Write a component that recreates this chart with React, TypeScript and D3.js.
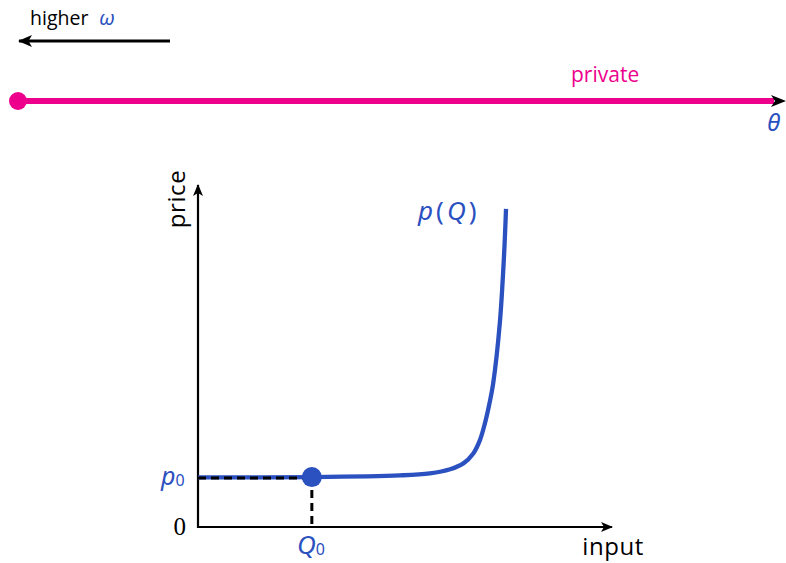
import React from "react";
import * as d3 from "d3";

// Price curve p(Q): input quantity vs. price (axis units 0..10)
const curveQ = [0, 2.75, 4.88, 5.6, 6.09, 6.41, 6.65, 6.81, 6.93, 7.04, 7.13, 7.29, 7.39, 7.44];
const curveP = [1.45, 1.46, 1.51, 1.57, 1.69, 1.86, 2.15, 2.54, 3.03, 3.61, 4.2, 5.96, 7.89, 9.3];

// Reference point (Q0, p0)
const pointQ = [2.75];
const pointP = [1.46];

const axisLabels = ["input", "price"];
const tickLabels = ["0"];

const W = 786;
const H = 563;
const BLUE = "#2b50bf";
const MAGENTA = "#ec008c";
const SANS = "'Open Sans', 'Noto Sans', sans-serif";
const MATH = "'Noto Sans', 'DejaVu Sans', sans-serif";

export default function App() {
  const x = d3.scaleLinear().domain([0, 10]).range([198, 612]);
  const y = d3.scaleLinear().domain([0, 10]).range([527, 185]);

  const pts: [number, number][] = curveQ.map((q, i) => [q, curveP[i]]);
  const line = d3
    .line<[number, number]>()
    .x((d) => x(d[0]))
    .y((d) => y(d[1]))
    .curve(d3.curveCatmullRom.alpha(0.5));

  const q0 = x(pointQ[0]);
  const p0 = y(pointP[0]);

  // top spectrum line
  const sx = d3.scaleLinear().domain([0, 1]).range([18, 786]);

  return (
    <svg
      width={W}
      height={H}
      style={{ position: "absolute", left: 0, top: 0, background: "#fff" }}
    >
      <defs>
        <marker
          id="arrow"
          viewBox="0 0 12 10"
          refX="11"
          refY="5"
          markerWidth="12"
          markerHeight="10"
          markerUnits="userSpaceOnUse"
          orient="auto-start-reverse"
        >
          <path d="M0,0 L12,5 L0,10 L3,5 Z" fill="#000" />
        </marker>
        <marker
          id="arrowBig"
          viewBox="0 0 14 12"
          refX="13"
          refY="6"
          markerWidth="14"
          markerHeight="12"
          markerUnits="userSpaceOnUse"
          orient="auto-start-reverse"
        >
          <path d="M0,0 L14,6 L0,12 L3.5,6 Z" fill="#000" />
        </marker>
      </defs>

      {/* direction hint */}
      <text x={30} y={25} fontFamily={SANS} fontSize={19.5} fill="#000">
        higher
        <tspan
          x={99}
          fill={BLUE}
          fontStyle="italic"
          fontFamily={MATH}
          fontSize={20}
        >
          ω
        </tspan>
      </text>
      <line
        x1={170}
        y1={41}
        x2={19}
        y2={41}
        stroke="#000"
        strokeWidth={3}
        markerEnd="url(#arrowBig)"
      />

      {/* θ spectrum */}
      <line
        x1={sx(0)}
        y1={101}
        x2={sx(1) - 12}
        y2={101}
        stroke={MAGENTA}
        strokeWidth={6}
      />
      <path
        d={`M${sx(1) - 15},95 L${sx(1)},101 L${sx(1) - 15},107 L${sx(1) - 11},101 Z`}
        fill="#000"
      />
      <circle cx={sx(0)} cy={101} r={9} fill={MAGENTA} />
      <text x={571} y={82} fontFamily={SANS} fontSize={21} fill={MAGENTA}>
        private
      </text>
      <text
        x={780}
        y={131}
        fontFamily={MATH}
        fontStyle="italic"
        fontSize={24}
        fill={BLUE}
        textAnchor="end"
      >
        θ
      </text>

      {/* axes */}
      <line
        x1={x(0)}
        y1={y(0)}
        x2={x(10)}
        y2={y(0)}
        stroke="#000"
        strokeWidth={2.2}
        markerEnd="url(#arrow)"
      />
      <line
        x1={x(0)}
        y1={y(0) + 1.1}
        x2={x(0)}
        y2={y(10)}
        stroke="#000"
        strokeWidth={2.2}
        markerEnd="url(#arrow)"
      />
      <text
        x={644}
        y={555}
        fontFamily={SANS}
        fontSize={24}
        letterSpacing={0.6}
        textAnchor="end"
        fill="#000"
      >
        {axisLabels[0]}
      </text>
      <text
        transform={`translate(185,199) rotate(-90)`}
        fontFamily={SANS}
        fontSize={24}
        letterSpacing={0.6}
        textAnchor="middle"
        fill="#000"
      >
        {axisLabels[1]}
      </text>
      <text
        x={186}
        y={535}
        fontFamily="'Liberation Serif', serif"
        fontSize={25}
        textAnchor="end"
        fill="#000"
      >
        {tickLabels[0]}
      </text>

      {/* price curve */}
      <path d={line(pts) ?? ""} fill="none" stroke={BLUE} strokeWidth={4.3} />

      {/* guides to the reference point */}
      <line
        x1={x(0)}
        y1={p0 + 1}
        x2={q0}
        y2={p0 + 1}
        stroke="#000"
        strokeWidth={3}
        strokeDasharray="8,5"
      />
      <line
        x1={q0}
        y1={p0}
        x2={q0}
        y2={y(0)}
        stroke="#000"
        strokeWidth={3}
        strokeDasharray="8,5"
      />
      <circle cx={q0} cy={p0} r={10} fill={BLUE} />

      {/* math labels */}
      <text
        x={418}
        y={220}
        fontFamily={MATH}
        fontSize={26}
        letterSpacing={3}
        fill={BLUE}
      >
        <tspan fontStyle="italic">p</tspan>(<tspan fontStyle="italic">Q</tspan>)
      </text>
      <text x={161} y={485} fontFamily={MATH} fontSize={25} fill={BLUE}>
        <tspan fontStyle="italic">p</tspan>
        <tspan fontSize={16} dy={1}>0</tspan>
      </text>
      <text x={297} y={554} fontFamily={MATH} fontSize={26} fill={BLUE}>
        <tspan fontStyle="italic">Q</tspan>
        <tspan fontSize={16} dy={1}>0</tspan>
      </text>
    </svg>
  );
}
